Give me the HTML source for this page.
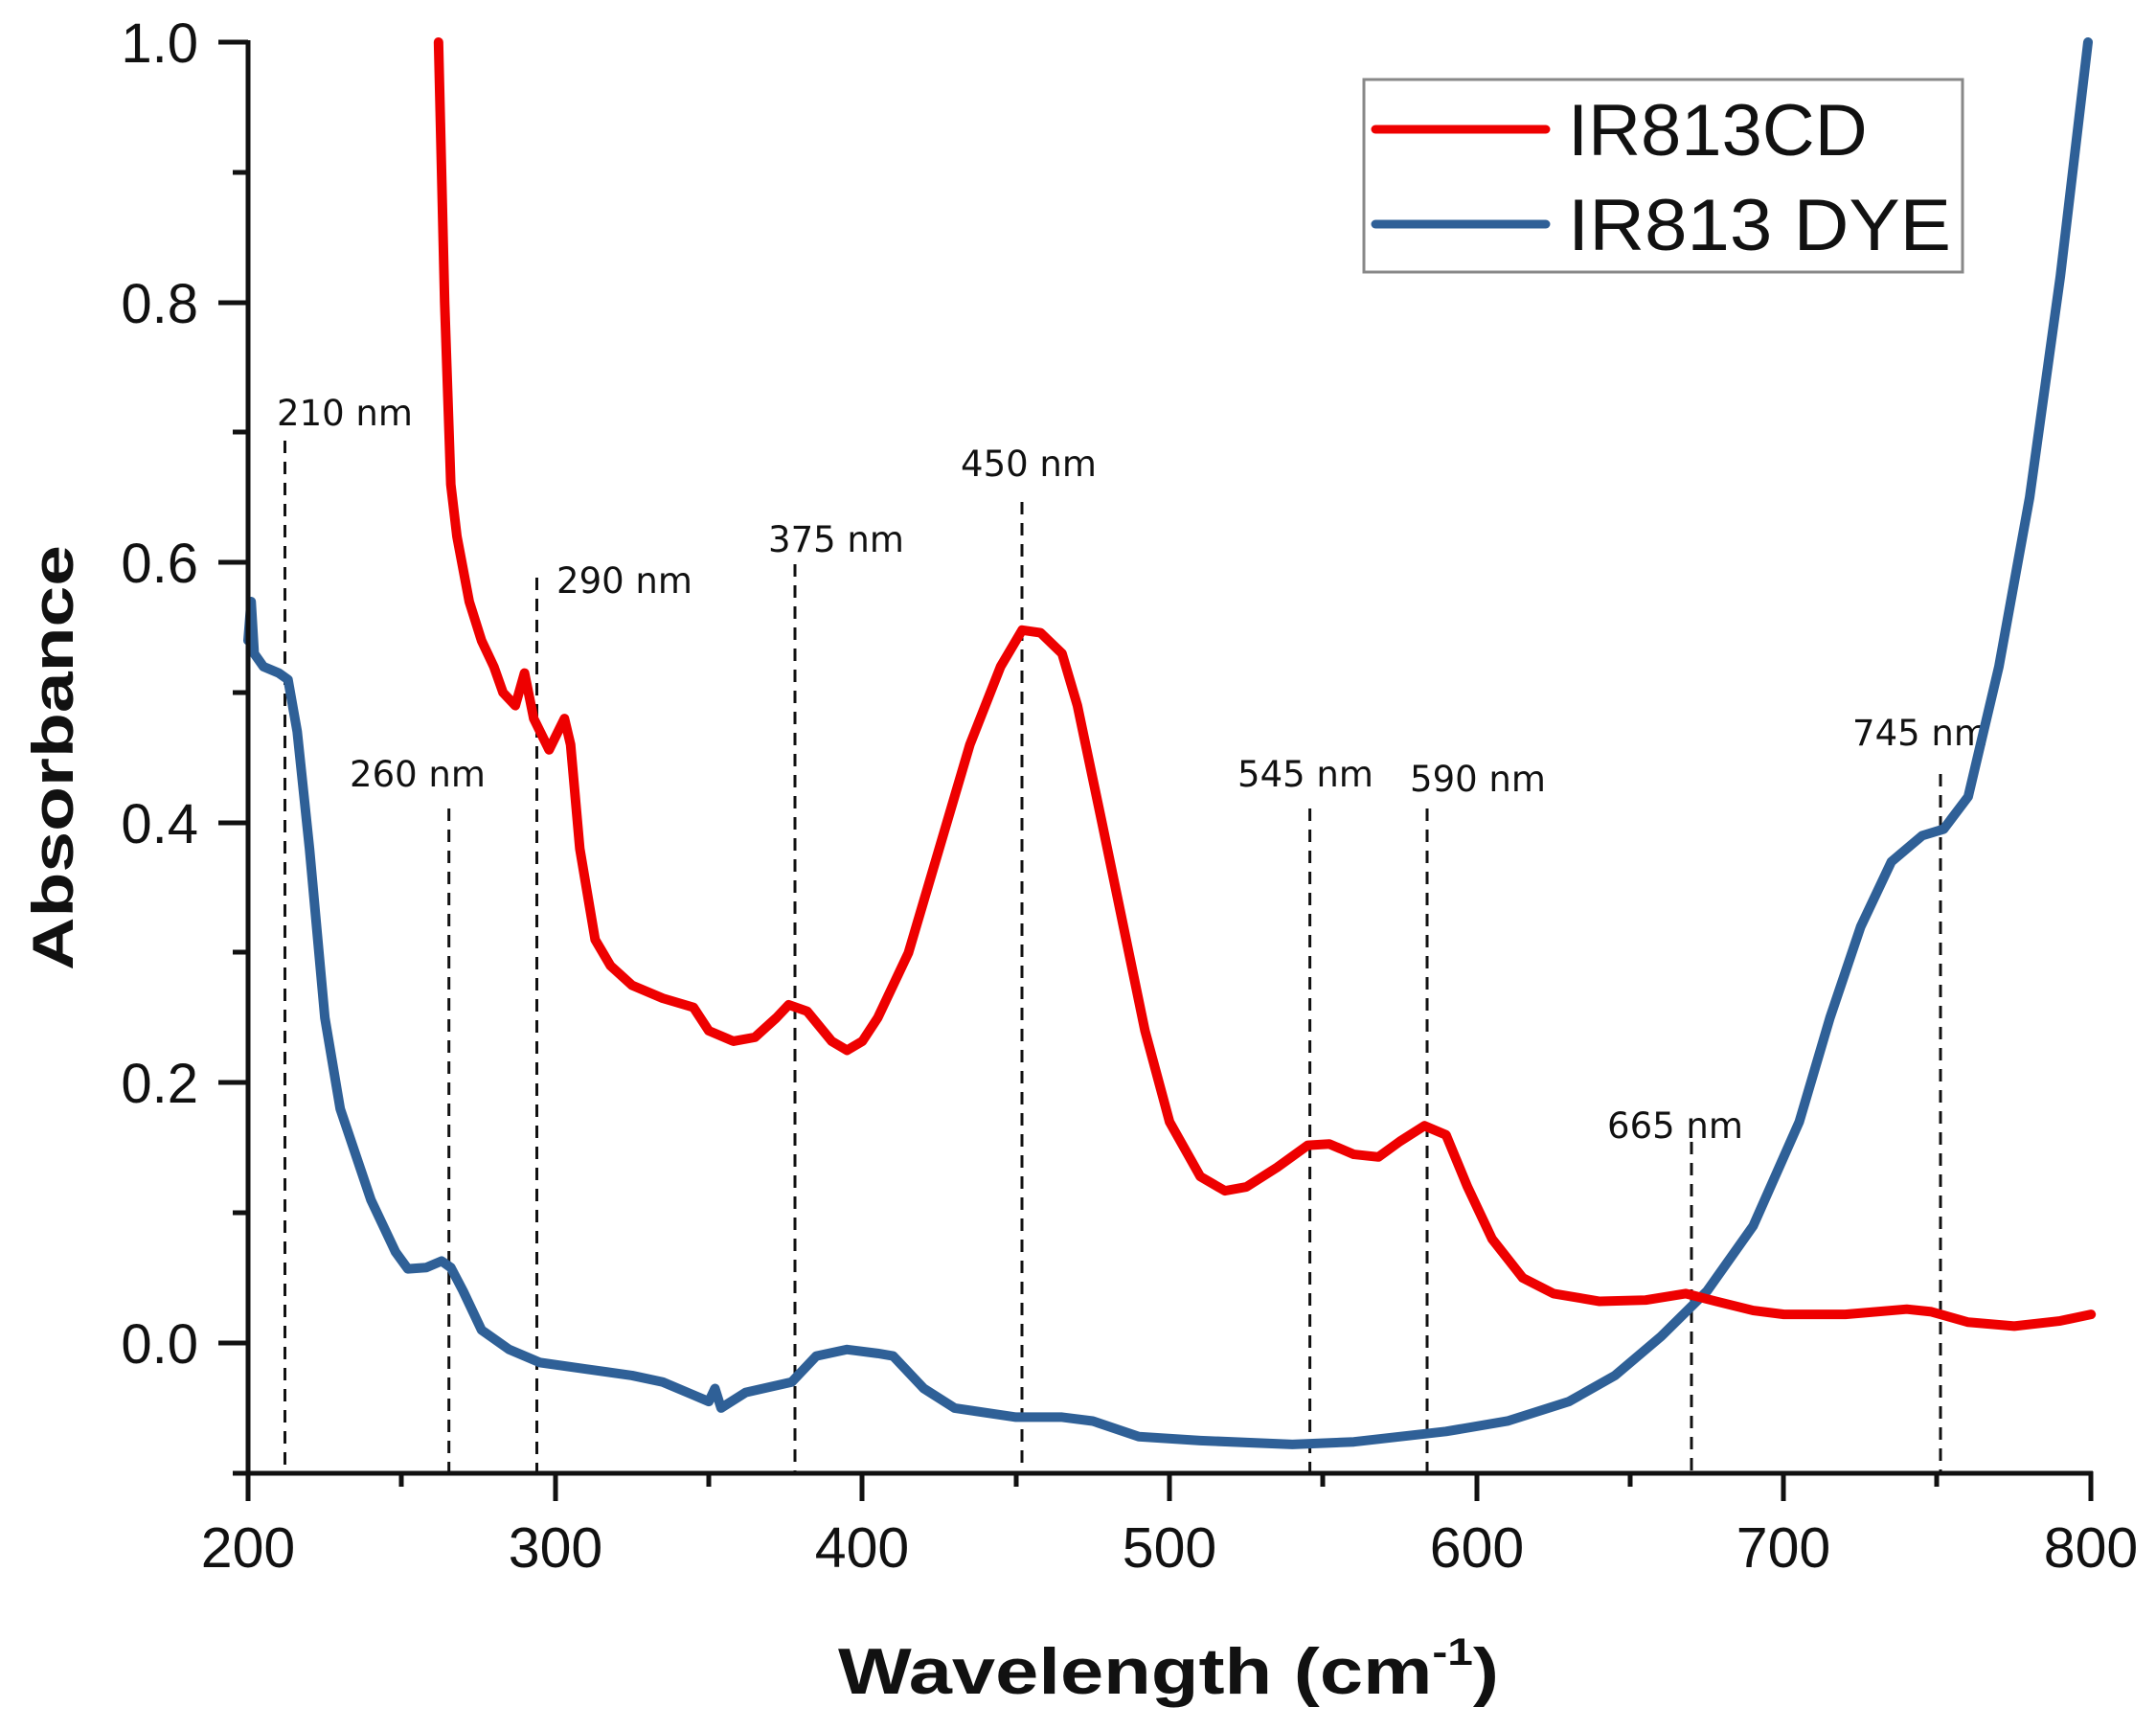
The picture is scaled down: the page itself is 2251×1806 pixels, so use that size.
<!DOCTYPE html>
<html><head><meta charset="utf-8">
<style>
html,body{margin:0;padding:0;background:#fff;}
svg{display:block;}
</style></head>
<body>
<svg width="2251" height="1806" viewBox="0 0 2251 1806" xmlns="http://www.w3.org/2000/svg">
<rect width="2251" height="1806" fill="#fff"/>
<g stroke="#111" stroke-width="3" stroke-dasharray="13,9">
<line x1="297.5" y1="460" x2="297.5" y2="1538"/>
<line x1="468.7" y1="844" x2="468.7" y2="1538"/>
<line x1="560.5" y1="603" x2="560.5" y2="1538"/>
<line x1="830" y1="589" x2="830" y2="1538"/>
<line x1="1067" y1="524" x2="1067" y2="1538"/>
<line x1="1367.6" y1="844" x2="1367.6" y2="1538"/>
<line x1="1490" y1="844" x2="1490" y2="1538"/>
<line x1="1766" y1="1192" x2="1766" y2="1538"/>
<line x1="2026" y1="808" x2="2026" y2="1538"/>
</g>
<g font-family="DejaVu Sans, sans-serif" font-size="37" fill="#111" text-anchor="middle">
<text x="360" y="444">210 nm</text>
<text x="436" y="821">260 nm</text>
<text x="652" y="619">290 nm</text>
<text x="873" y="576">375 nm</text>
<text x="1074" y="497">450 nm</text>
<text x="1363" y="821">545 nm</text>
<text x="1543" y="826">590 nm</text>
<text x="1749" y="1188">665 nm</text>
<text x="2005" y="778">745 nm</text>
</g>
<g transform="translate(259,1402) scale(3.207,-1358)" fill="none" stroke-linejoin="round" stroke-linecap="round">
<path vector-effect="non-scaling-stroke" stroke="#2f6097" stroke-width="10" d="M0,0.54 L1,0.57 L2,0.53 L5,0.52 L10,0.515 L13,0.51 L16,0.47 L20,0.38 L25,0.25 L30,0.18 L40,0.11 L48,0.07 L52,0.057 L58,0.058 L63,0.063 L66,0.058 L70,0.04 L76,0.01 L85,-0.005 L95,-0.015 L110,-0.02 L125,-0.025 L135,-0.03 L145,-0.04 L150,-0.045 L152,-0.035 L154,-0.05 L162,-0.038 L177,-0.03 L185,-0.01 L195,-0.005 L205,-0.008 L210,-0.01 L220,-0.035 L230,-0.05 L250,-0.057 L265,-0.057 L275,-0.06 L290,-0.072 L310,-0.075 L340,-0.078 L360,-0.076 L390,-0.068 L410,-0.06 L430,-0.045 L445,-0.025 L460,0.005 L475,0.04 L490,0.09 L505,0.17 L515,0.25 L525,0.32 L535,0.37 L545,0.39 L552,0.395 L560,0.42 L570,0.52 L580,0.65 L590,0.82 L599,1.0"/>
<path vector-effect="non-scaling-stroke" stroke="#ee0000" stroke-width="10" d="M62,1.0 L64,0.80 L66,0.66 L68,0.62 L72,0.57 L76,0.54 L80,0.52 L83,0.50 L87,0.49 L90,0.515 L93,0.48 L98,0.456 L103,0.48 L105,0.46 L108,0.38 L113,0.31 L118,0.29 L125,0.275 L135,0.265 L145,0.258 L150,0.24 L158,0.232 L165,0.235 L172,0.25 L176,0.26 L182,0.255 L190,0.232 L195,0.225 L200,0.232 L205,0.25 L215,0.30 L225,0.38 L235,0.46 L245,0.52 L252,0.548 L258,0.546 L265,0.53 L270,0.49 L278,0.40 L285,0.32 L292,0.24 L300,0.17 L310,0.128 L318,0.117 L325,0.12 L335,0.135 L345,0.152 L352,0.153 L360,0.145 L368,0.143 L375,0.155 L383,0.167 L390,0.160 L397,0.12 L405,0.08 L415,0.05 L425,0.038 L440,0.032 L455,0.033 L468,0.038 L478,0.032 L490,0.025 L500,0.022 L520,0.022 L540,0.026 L548,0.024 L560,0.016 L575,0.013 L590,0.017 L600,0.022"/>
</g>
<g stroke="#111" stroke-width="5" fill="none">
<line x1="259" y1="42" x2="259" y2="1541"/>
<line x1="243" y1="1538" x2="2185" y2="1538"/>
<line x1="228" y1="44" x2="259" y2="44"/>
<line x1="228" y1="316" x2="259" y2="316"/>
<line x1="228" y1="587" x2="259" y2="587"/>
<line x1="228" y1="859" x2="259" y2="859"/>
<line x1="228" y1="1130" x2="259" y2="1130"/>
<line x1="228" y1="1402" x2="259" y2="1402"/>
<line x1="243" y1="180" x2="259" y2="180"/>
<line x1="243" y1="451" x2="259" y2="451"/>
<line x1="243" y1="723" x2="259" y2="723"/>
<line x1="243" y1="994" x2="259" y2="994"/>
<line x1="243" y1="1266" x2="259" y2="1266"/>
<line x1="259" y1="1538" x2="259" y2="1567"/>
<line x1="580" y1="1538" x2="580" y2="1567"/>
<line x1="900" y1="1538" x2="900" y2="1567"/>
<line x1="1221" y1="1538" x2="1221" y2="1567"/>
<line x1="1542" y1="1538" x2="1542" y2="1567"/>
<line x1="1862" y1="1538" x2="1862" y2="1567"/>
<line x1="2183" y1="1536" x2="2183" y2="1567"/>
<line x1="419" y1="1538" x2="419" y2="1552"/>
<line x1="740" y1="1538" x2="740" y2="1552"/>
<line x1="1061" y1="1538" x2="1061" y2="1552"/>
<line x1="1381" y1="1538" x2="1381" y2="1552"/>
<line x1="1702" y1="1538" x2="1702" y2="1552"/>
<line x1="2022" y1="1538" x2="2022" y2="1552"/>
</g>
<g font-family="Liberation Sans, Arial, sans-serif" font-size="58" fill="#111" text-anchor="end">
<text x="207" y="65">1.0</text>
<text x="207" y="337">0.8</text>
<text x="207" y="608">0.6</text>
<text x="207" y="880">0.4</text>
<text x="207" y="1151">0.2</text>
<text x="207" y="1423">0.0</text>
</g>
<g font-family="Liberation Sans, Arial, sans-serif" font-size="59" fill="#111" text-anchor="middle">
<text x="259" y="1636">200</text>
<text x="580" y="1636">300</text>
<text x="900" y="1636">400</text>
<text x="1221" y="1636">500</text>
<text x="1542" y="1636">600</text>
<text x="1862" y="1636">700</text>
<text x="2183" y="1636">800</text>
</g>
<text x="875" y="1768" font-family="Liberation Sans, Arial, sans-serif" font-weight="bold" font-size="68" fill="#111" textLength="690" lengthAdjust="spacingAndGlyphs">Wavelength (cm<tspan font-size="40" dy="-30">-1</tspan><tspan dy="30">)</tspan></text>
<text transform="translate(76,791) rotate(-90)" text-anchor="middle" font-family="Liberation Sans, Arial, sans-serif" font-weight="bold" font-size="60" fill="#111" textLength="444" lengthAdjust="spacingAndGlyphs">Absorbance</text>
<rect x="1424" y="83" width="625" height="201" fill="#fff" stroke="#888" stroke-width="3"/>
<line x1="1436" y1="135" x2="1614" y2="135" stroke="#ee0000" stroke-width="9" stroke-linecap="round"/>
<line x1="1436" y1="234" x2="1614" y2="234" stroke="#2f6097" stroke-width="9" stroke-linecap="round"/>
<g font-family="Liberation Sans, Arial, sans-serif" font-size="76" fill="#111">
<text x="1637" y="162">IR813CD</text>
<text x="1637" y="261" textLength="400" lengthAdjust="spacingAndGlyphs">IR813 DYE</text>
</g>
</svg>
</body></html>
